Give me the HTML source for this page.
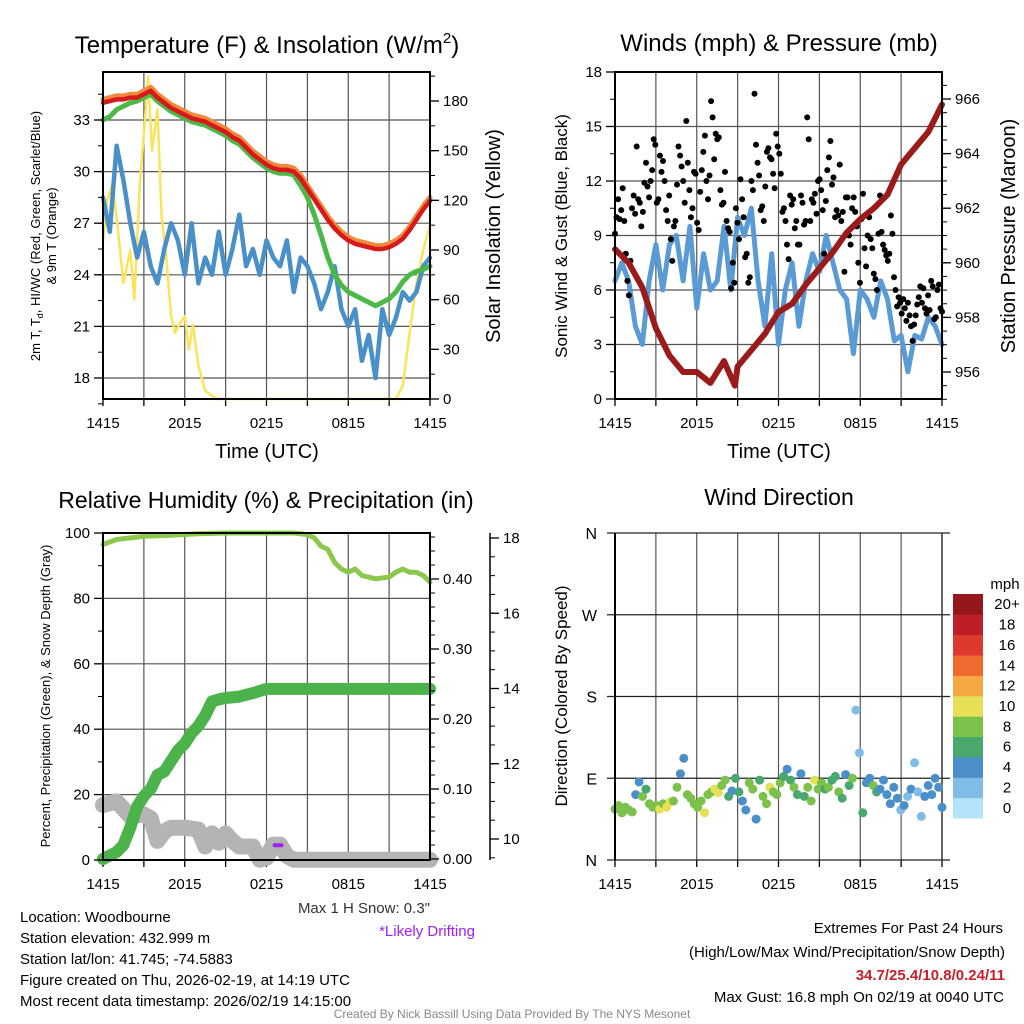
<!DOCTYPE html>
<html><head><meta charset="utf-8"><style>
html,body{margin:0;padding:0;background:#fff;}
svg{display:block;font-family:"Liberation Sans",Arial,sans-serif;}
</style></head><body>
<svg id="chart" xmlns="http://www.w3.org/2000/svg" width="1024" height="1024" viewBox="0 0 1024 1024"></svg>
<script>
// ---------- DATA ----------
// Panel 1 (30-min series, 0..24 h)
const tempRed = [34.0,34.1,34.2,34.2,34.3,34.3,34.5,34.7,34.3,34.0,33.7,33.5,33.3,33.1,33.0,32.9,32.7,32.5,32.3,32.0,31.8,31.4,31.0,30.7,30.4,30.2,30.1,30.1,30.0,29.6,29.0,28.4,27.8,27.2,26.7,26.3,26.0,25.8,25.7,25.6,25.5,25.5,25.6,25.8,26.1,26.6,27.2,27.8,28.3];
const tempOrange = [34.2,34.3,34.4,34.4,34.5,34.5,34.7,34.9,34.5,34.2,33.9,33.7,33.5,33.3,33.2,33.1,32.9,32.7,32.5,32.2,32.0,31.6,31.2,30.9,30.6,30.4,30.3,30.3,30.2,29.8,29.2,28.6,28.0,27.4,26.9,26.5,26.2,26.0,25.9,25.8,25.7,25.7,25.8,26.0,26.3,26.8,27.4,28.0,28.5];
const dewGreen = [33.0,33.2,33.6,33.8,34.0,34.1,34.3,34.5,34.1,33.8,33.5,33.3,33.1,32.9,32.8,32.7,32.5,32.3,32.1,31.8,31.6,31.2,30.8,30.5,30.2,30.0,29.9,29.9,29.8,29.2,28.5,27.5,26.3,25.0,24.0,23.4,23.0,22.8,22.6,22.4,22.2,22.4,22.6,23.0,23.6,24.0,24.2,24.3,24.5];
const windChillBlue = [28.5,26.5,31.5,29.5,27,25,26.5,24.5,23.5,25.5,27,26,24,27,23.5,25,24,26.5,24,25.5,27.5,24.5,25.5,24,26,25,24.5,26,23,25,24.5,23.5,22,23,24.5,22,21,22,19,20.5,18,22,20.5,21.5,23,22.5,23,24.5,25];
const solarT = [0,0.3,0.7,1.0,1.5,2.0,2.3,2.7,3.0,3.3,3.6,4.0,4.3,4.6,5.0,5.3,5.6,6.0,6.3,6.6,7.0,7.5,8.0,8.4,12,21.5,22,22.5,23,23.5,24];
const solarV = [95,120,130,110,70,90,60,130,160,195,150,175,110,90,50,40,45,50,30,45,20,5,2,0,0,0,8,40,70,90,105];
// Panel 2
const windBlue = [6.5,7.5,6.5,4,3,6.5,8.5,6,8.5,9,6.5,9.5,5,8,6,6.5,9.5,6,10,9,10.5,6.5,4,8,3,6,7.5,4,6.5,8,7,9,7.5,6,5.5,2.5,6,5.5,4.5,6.5,5.5,3.2,3.5,1.5,3.5,3.3,4.5,4,3];
const pressureT = [0,1,2,3,4,5,6,7,8,8.8,9,10,11,12,13,14,15,16,17,18,19,20,21,22,23,24];
const pressureV = [960.5,960.0,959.1,957.6,956.6,956.0,956.0,955.6,956.4,955.5,956.2,956.8,957.4,958.2,958.5,959.2,959.8,960.4,961.1,961.6,962.0,962.5,963.6,964.2,964.8,965.8];
const gustV = [9.1,10,11,9.9,10.4,11.6,9.8,8,6.5,5.7,7.6,10.5,11.2,10.2,13.9,11,10.8,9.5,10.3,11.9,13,11.7,11.1,12,12.6,14.3,14,10.8,11,13.4,12.5,13.1,12,10.4,9.8,11.2,8.8,7.6,9.5,9.8,11.8,13.9,13.4,12.8,12,10.8,15.3,13,11.5,10,10.5,12.5,12.4,9.7,9.3,11.4,12.6,13.6,14.5,12,11,12.3,16.4,15.5,13.2,14.6,14.3,14.4,11.5,10.7,10.8,12.5,9.8,9.4,9.2,6.1,7.5,6.4,10.5,9.7,8.8,12.1,11,10,7.8,8,6.4,6.7,12,11.5,16.8,14,13,12.3,10.4,10.6,9.8,11.7,13.6,13.8,13.3,13.2,12.4,11.6,14.6,13.9,13.5,12.4,10.3,10.5,9.8,8.5,7.7,11.2,10.7,11,9.4,9.8,8.5,8.5,11.2,10.8,9.6,9.8,15.5,14.3,9.8,11,10.8,11.3,10.2,12,12.1,11.5,10.4,8,10.9,12.6,13.3,14.2,11.8,12.2,10,10.4,10.1,12.9,9.8,10.3,7,11.1,11.1,9,8.5,10.5,11.1,10.3,9.5,7.5,6.4,9.9,11.3,8.3,7.3,9,10,8.8,8.3,6.9,6.6,6,9.1,11.2,9.2,8.5,8.2,7.9,7.6,8,10.1,9.1,6.7,6,5.1,5.6,5.3,4.7,5.5,5,4.3,5.3,4.6,4,3.2,4.1,4.6,5.2,5.6,6.2,5.3,6.1,5,4.7,5.7,4.9,6.5,6.2,4.4,4.5,6,6.3,5,4.8];
// Panel 3
const rhT = [0,1,2,3,5,7,9,12,14,15,15.5,16,16.5,17,17.5,18,18.5,19,20,21,21.5,22,22.5,23,23.5,24];
const rhV = [96.5,98,98.5,99,99.3,99.8,100,100,100,99.5,98.5,96,95,91,89,88,89,87,86,86.5,88,89,88,88,87,85];
const precipT = [0,0.5,1,1.5,2,2.5,3,3.5,4,4.5,5,5.5,6,6.5,7,7.5,8,8.5,9,10,11,12,24];
const precipV = [0,0.005,0.01,0.02,0.045,0.075,0.09,0.1,0.12,0.125,0.14,0.155,0.165,0.18,0.19,0.205,0.225,0.228,0.23,0.232,0.237,0.243,0.243];
const snowT = [0,1,2,3,3.5,4,4.5,5,6,7,7.5,8,8.5,9,9.5,10,11,11.5,12,12.5,13,13.5,14,24];
const snowV = [10.9,11.0,10.6,10.65,10.55,9.95,10.2,10.3,10.3,10.25,9.8,10.15,9.9,10.15,9.95,9.8,9.8,9.45,9.5,9.85,9.85,9.55,9.45,9.45];
// Panel 4
const dirV = [56,60,52,58,55,53,72,86,70,78,62,58,60,56,62,58,64,65,80,95,112,72,68,62,58,65,52,72,75,78,74,82,88,70,76,90,75,65,55,85,78,45,88,70,62,80,75,72,85,92,100,88,80,72,95,70,80,65,88,78,85,78,80,88,92,75,68,94,82,90,165,118,52,85,90,82,75,78,88,72,62,80,68,55,60,70,78,107,75,48,70,82,72,90,80,58];
const spdV = [7,7,8,7,7,8,4,4,7,6,8,8,8,9,8,10,9,8,7,4,4,8,7,8,8,8,10,8,8,10,10,7,8,6,4,6,6,4,4,7,8,4,6,8,8,9,7,8,7,6,4,6,8,5,4,6,8,7,9,7,8,6,8,6,6,8,6,4,6,7,2,2,6,4,4,7,6,4,4,4,4,4,3,2,3,2,4,1,2,2,4,3,4,4,3,4];
const cbarLabels = ['0','2','4','6','8','10','12','14','16','18','20+'];
const cbarColors = ['#b3e3f8','#7fbde6','#4a8fc9','#49a86e','#7cc14b','#e5e055','#f5a844','#ee6a2e','#dc3a2d','#be1f26','#94171b'];
const xLabels = ['1415','2015','0215','0815','1415'];

// ---------- HELPERS ----------
const NS='http://www.w3.org/2000/svg';
const svg=document.getElementById('chart');
function E(tag,a){const e=document.createElementNS(NS,tag);for(const k in a)e.setAttribute(k,a[k]);svg.appendChild(e);return e;}
function T(x,y,s,size,anchor,fill,weight){const e=E('text',{x:x,y:y,'font-size':size,'text-anchor':anchor||'start',fill:fill||'#000'});if(weight)e.setAttribute('font-weight',weight);e.textContent=s;return e;}
function lin(d0,d1,r0,r1){return v=>r0+(v-d0)*(r1-r0)/(d1-d0);}
function pathD(xs,ys,xf,yf){return xs.map((t,i)=>(i?'L':'M')+xf(t).toFixed(1)+','+yf(ys[i]).toFixed(1)).join(' ');}
function idxT(arr){return arr.map((_,i)=>i*24/(arr.length-1));}
function line(xs,ys,xf,yf,color,w,name){const p=E('path',{d:pathD(xs,ys,xf,yf),fill:'none',stroke:color,'stroke-width':w,'stroke-linejoin':'round','stroke-linecap':'round'});


return p;}

function timeAxis(x0,x1,y0,y1,grid,labels){
  const xf=lin(0,24,x0,x1);
  for(let h=0;h<=24;h+=3){
    const x=xf(h);
    if(grid&&h>0&&h<24){const g=E('line',{x1:x,y1:y0,x2:x,y2:y1,stroke:'#555','stroke-width':1.2});
      
      }
    const tk=E('line',{x1:x,y1:y1,x2:x,y2:y1+7,stroke:'#000','stroke-width':1.3});
    
    
    if(h%6===0&&labels){const l=T(x,y1+29,xLabels[h/6],15,'middle');
      
      }
  }
  return xf;
}
function hGrid(x0,x1,y){const g=E('line',{x1:x0,y1:y,x2:x1,y2:y,stroke:'#555','stroke-width':1.2});
  
  }
function frame(x0,y0,x1,y1){const r=E('rect',{x:x0,y:y0,width:x1-x0,height:y1-y0,fill:'none',stroke:'#000','stroke-width':2});
  
  }
function yTicks(x,yf,vals,minor,side,fmt,size){
  const dir=side==='left'?-1:1;
  minor.forEach(v=>{const t=E('line',{x1:x,y1:yf(v),x2:x+dir*5,y2:yf(v),stroke:'#000','stroke-width':1});
    
    });
  vals.forEach(v=>{const t=E('line',{x1:x,y1:yf(v),x2:x+dir*9,y2:yf(v),stroke:'#000','stroke-width':1.3});
    
    
    const l=T(side==='left'?x-13:x+13,yf(v)+5,fmt(v),size||15,side==='left'?'end':'start');
    
    });
}
function rotText(x,y,s,size,name){const e=T(0,0,s,size,'middle');e.setAttribute('transform','translate('+x+','+y+') rotate(-90)');
  
  return e;}
function range(a,b,s){const r=[];for(let v=a;v<=b+1e-9;v+=s)r.push(+v.toFixed(4));return r;}

// ---------- PANEL 1 ----------
{
const X0=103,X1=430,Y0=72,Y1=399;
const yL=lin(18,33,378,120), yR=lin(0,180,399,101);
[18,21,24,27,30,33].forEach(v=>hGrid(X0,X1,yL(v)));
const xf=timeAxis(X0,X1,Y0,Y1,true,true);
line(solarT,solarV,xf,yR,'#fbe35a',2.5,'solar-insolation-line');
line(idxT(windChillBlue),windChillBlue,xf,yL,'#4a90c8',4.5,'wind-chill-line');
line(idxT(dewGreen),dewGreen,xf,yL,'#4cb848',5,'dewpoint-line');
line(idxT(tempOrange),tempOrange,xf,yL,'#f08a3a',5,'temp-9m-line');
line(idxT(tempRed),tempRed,xf,yL,'#d7191c',4.5,'temp-2m-line');
frame(X0,Y0,X1,Y1);
yTicks(X0,yL,[18,21,24,27,30,33],range(16.5,34.5,1.5),'left',v=>String(v));
yTicks(X1,yR,[0,30,60,90,120,150,180],range(15,195,15),'right',v=>String(v));
const t=T(267,53,'',24,'middle');t.innerHTML='Temperature (F) &amp; Insolation (W/m<tspan font-size="15" dy="-10">2</tspan><tspan dy="10">)</tspan>';


const xt=T(267,458,'Time (UTC)',20,'middle');


const l1=T(0,0,'',13,'middle');l1.setAttribute('transform','translate(40,236) rotate(-90)');
l1.innerHTML='2m T, T<tspan font-size="9" dy="3">d</tspan><tspan dy="-3">, HI/WC (Red, Green, Scarlet/Blue)</tspan>';


rotText(56,236,'& 9m T (Orange)',13,'temperature-axis-title-line2');
rotText(500,236,'Solar Insolation (Yellow)',20,'solar-axis-title');
}
// ---------- PANEL 2 ----------
{
const X0=615,X1=942,Y0=72,Y1=399;
const yL=lin(0,18,399,72), yR=lin(956,966,372,99);
[3,6,9,12,15].forEach(v=>hGrid(X0,X1,yL(v)));
const xf=timeAxis(X0,X1,Y0,Y1,true,true);
line(idxT(windBlue),windBlue,xf,yL,'#5a9bd5',5,'sonic-wind-line');
const gt=idxT(gustV);
gustV.forEach((v,i)=>{const c=E('circle',{cx:xf(gt[i]).toFixed(1),cy:yL(v).toFixed(1),r:3,fill:'#000'});
  
  });
line(pressureT,pressureV,xf,yR,'#9b1b1b',6,'station-pressure-line');
frame(X0,Y0,X1,Y1);
yTicks(X0,yL,[0,3,6,9,12,15,18],range(1.5,16.5,1.5),'left',v=>String(v));
yTicks(X1,yR,[956,958,960,962,964,966],range(955,966.5,0.5),'right',v=>String(v));
const t=T(779,51,'Winds (mph) & Pressure (mb)',24,'middle');


const xt=T(779,458,'Time (UTC)',20,'middle');


rotText(567,236,'Sonic Wind & Gust (Blue, Black)',17,'wind-axis-title');
rotText(1015,236,'Station Pressure (Maroon)',20,'pressure-axis-title');
}
// ---------- PANEL 3 ----------
{
const X0=103,X1=430,Y0=533,Y1=860;
const yL=lin(0,100,860,533), yP=lin(0,0.4,859,579), yS=lin(10,18,839,538);
[20,40,60,80].forEach(v=>hGrid(X0,X1,yL(v)));
const xf=timeAxis(X0,X1,Y0,Y1,true,true);
line(snowT,snowV,xf,yS,'#b4b4b4',16,'snow-depth-line');
const pd=E('line',{x1:xf(12.6),y1:yL(4.5),x2:xf(13.1),y2:yL(4.5),stroke:'#a020f0','stroke-width':4,'stroke-linecap':'round'});


line(precipT,precipV,xf,yP,'#4cb34a',12,'precipitation-line');
line(rhT,rhV,xf,yL,'#8cc84b',5,'relative-humidity-line');
frame(X0,Y0,X1,Y1);
yTicks(X0,yL,[0,20,40,60,80,100],range(10,90,20),'left',v=>String(v));
yTicks(X1,yP,[0,0.1,0.2,0.3,0.4],range(0,0.46,0.02),'right',v=>v.toFixed(2));
const sa=E('line',{x1:490,y1:533,x2:490,y2:860,stroke:'#000','stroke-width':1.5});


yTicks(490,yS,[10,12,14,16,18],range(9.5,18,0.5),'right',v=>String(v));
const t=T(266,508,'Relative Humidity (%) & Precipitation (in)',23,'middle');


rotText(50,696,'Percent, Precipitation (Green), & Snow Depth (Gray)',13,'humidity-axis-title');
}
// ---------- PANEL 4 ----------
{
const X0=615,X1=942,Y0=533,Y1=860;
const yD=lin(0,360,860,533);
const xf=timeAxis(X0,X1,Y0,Y1,true,true);
[0,90,180,270,360].forEach((v,i)=>{const g=E('line',{x1:607,y1:yD(v),x2:950,y2:yD(v),stroke:'#222','stroke-width':1.3});
  
  
  const l=T(597,yD(v)+6,['N','E','S','W','N'][i],16,'end');
  
  });
const fr=E('line',{x1:X1,y1:Y0,x2:X1,y2:Y1,stroke:'#333','stroke-width':1.5});


const dt=idxT(dirV);
dirV.forEach((d,i)=>{const bin=Math.min(10,Math.floor((spdV[i]+1)/2));
  const c=E('circle',{cx:xf(dt[i]).toFixed(1),cy:yD(d).toFixed(1),r:4.5,fill:cbarColors[bin]});
  
  });
const fl=E('line',{x1:X0,y1:Y0,x2:X0,y2:Y1,stroke:'#000','stroke-width':2});


const t=T(779,505,'Wind Direction',23,'middle');


rotText(567,696,'Direction (Colored By Speed)',17,'direction-axis-title');
const u=T(1005,589,'mph',15,'middle');


const bh=(818-594)/11;
cbarColors.forEach((c,i)=>{const y=818-(i+1)*bh;
  const r=E('rect',{x:953,y:y,width:30,height:bh+0.5,fill:c});
  
  
  const l=T(1007,y+bh/2+5,cbarLabels[i],15,'middle');
  
  });
}
// ---------- FOOTER TEXT ----------
{
const lines=['Location: Woodbourne','Station elevation: 432.999 m','Station lat/lon: 41.745; -74.5883','Figure created on Thu, 2026-02-19, at 14:19 UTC','Most recent data timestamp: 2026/02/19 14:15:00'];
lines.forEach((s,i)=>{const e=T(20,922+i*21,s,15,'start');
  
  });
let e=T(430,913,'Max 1 H Snow: 0.3"',15,'end','#333');


e=T(427,936,'*Likely Drifting',15,'middle','#a020f0');


e=T(1003,933,'Extremes For Past 24 Hours',15,'end');


e=T(1005,957,'(High/Low/Max Wind/Precipitation/Snow Depth)',15,'end');


e=T(1005,980,'34.7/25.4/10.8/0.24/11',15,'end','#c8202a','bold');


e=T(1004,1002,'Max Gust: 16.8 mph On 02/19 at 0040 UTC',15,'end');


e=T(512,1018,'Created By Nick Bassill Using Data Provided By The NYS Mesonet',12,'middle','#888');


}
</script>
</body></html>
